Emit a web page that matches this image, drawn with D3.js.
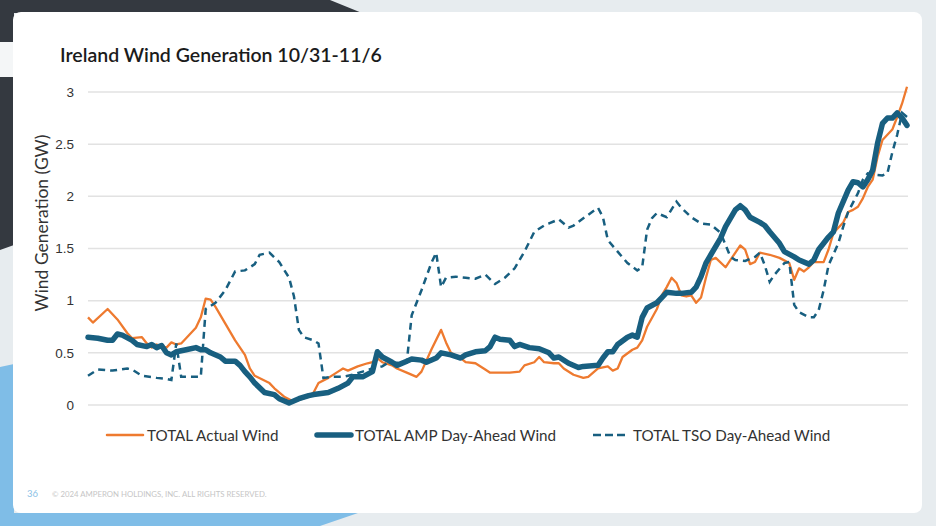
<!DOCTYPE html>
<html>
<head>
<meta charset="UTF-8">
<title>Ireland Wind Generation</title>
<script src="https://cdn.jsdelivr.net/npm/d3@7"></script>
<style>
  html, body { margin: 0; padding: 0; background: #e7ecef; }
  svg { display: block; }
</style>
</head>
<body>
<svg id="slide" width="936" height="526"></svg>
<script>
// ---- data (GW), x = hour index from 10/31 00:00 ----
var titleText = "Ireland Wind Generation 10/31-11/6";
var yTicks = [0, 0.5, 1, 1.5, 2, 2.5, 3];
var seriesNames = ["TOTAL Actual Wind", "TOTAL AMP Day-Ahead Wind", "TOTAL TSO Day-Ahead Wind"];

var actualHours = [0,1,4,6,8,9,11,12,13,14,16,17,18,19,20,22,23,24,25,26,28,30,32,33,34,37,38,40,42,43,45,46,47,49,51,52,53,55,57,58,59,60,62,63,65,67,68,70,72,73,74,76,77,79,81,82,84,86,88,89,91,92,93,95,96,97,99,101,102,104,106,107,108,109,111,112,113,114,116,117,118,119,120,121,122,123,124,125,126,127,128,130,131,133,134,135,136,137,139,141,143,144,145,146,147,148,150,151,152,154,155,156,157,158,159,160,161,162,164,165,166,167];
var actualGW = [0.84,0.79,0.92,0.82,0.69,0.64,0.65,0.59,0.55,0.58,0.55,0.60,0.58,0.59,0.64,0.74,0.84,1.02,1.01,0.94,0.78,0.62,0.48,0.35,0.28,0.21,0.16,0.08,0.03,0.05,0.08,0.12,0.21,0.26,0.32,0.35,0.33,0.37,0.40,0.41,0.45,0.41,0.38,0.35,0.31,0.27,0.32,0.53,0.72,0.60,0.50,0.45,0.41,0.40,0.34,0.31,0.31,0.31,0.32,0.38,0.41,0.46,0.41,0.40,0.40,0.35,0.29,0.26,0.27,0.35,0.37,0.33,0.35,0.46,0.53,0.55,0.62,0.75,0.92,1.05,1.13,1.22,1.17,1.05,1.04,1.05,0.98,1.03,1.22,1.39,1.41,1.32,1.39,1.53,1.49,1.35,1.37,1.46,1.44,1.41,1.36,1.20,1.31,1.28,1.32,1.37,1.37,1.49,1.65,1.75,1.85,1.87,1.90,1.98,2.09,2.16,2.38,2.54,2.64,2.76,2.89,3.05];

var ampHours = [0,2,4,5,6,7,9,10,12,13,14,15,16,17,18,20,22,23,24,25,27,28,30,31,32,33,34,36,38,39,41,43,45,46,49,51,53,54,56,58,59,60,62,63,65,66,68,69,71,72,74,76,77,79,81,82,83,84,86,87,88,90,92,94,95,96,98,100,101,104,105,106,107,108,110,111,112,113,114,116,117,118,120,121,123,124,125,126,127,129,130,132,133,134,135,137,138,139,141,142,144,145,147,148,149,151,152,153,155,156,157,158,159,160,161,162,163,164,165,166,167];
var ampGW = [0.65,0.64,0.62,0.62,0.68,0.67,0.62,0.58,0.56,0.58,0.55,0.57,0.50,0.48,0.51,0.53,0.55,0.53,0.53,0.50,0.46,0.42,0.42,0.38,0.32,0.27,0.21,0.12,0.10,0.06,0.02,0.06,0.09,0.10,0.12,0.16,0.21,0.27,0.27,0.32,0.51,0.46,0.41,0.38,0.42,0.44,0.43,0.41,0.45,0.50,0.48,0.45,0.48,0.51,0.52,0.56,0.65,0.63,0.62,0.56,0.58,0.55,0.54,0.50,0.45,0.46,0.40,0.36,0.37,0.38,0.45,0.51,0.51,0.58,0.65,0.67,0.65,0.84,0.93,0.98,1.03,1.08,1.07,1.07,1.08,1.13,1.23,1.36,1.44,1.60,1.71,1.87,1.91,1.87,1.80,1.75,1.72,1.66,1.55,1.47,1.42,1.39,1.35,1.39,1.49,1.61,1.66,1.84,2.06,2.14,2.13,2.09,2.16,2.25,2.51,2.70,2.75,2.75,2.80,2.75,2.68];

var tsoHours = [0,2,5,8,9,11,14,16,17,18,19,21,23,24,26,28,30,32,34,35,37,39,41,42,43,44,46,47,48,50,52,54,56,58,60,61,65,66,67,68,70,71,72,73,75,77,79,81,83,85,87,89,91,93,94,96,98,99,101,104,105,106,108,110,112,113,114,115,116,118,120,121,123,125,127,129,131,132,134,136,137,138,139,140,142,143,144,145,147,148,149,150,151,153,154,155,157,158,159,160,162,163,164,165,166,167];
var tsoGW = [0.28,0.34,0.33,0.35,0.34,0.28,0.26,0.25,0.24,0.59,0.27,0.27,0.27,0.92,0.98,1.10,1.28,1.29,1.35,1.44,1.46,1.37,1.22,1.04,0.72,0.65,0.62,0.59,0.26,0.27,0.27,0.29,0.32,0.35,0.37,0.40,0.41,0.86,0.98,1.10,1.36,1.46,1.13,1.22,1.23,1.22,1.21,1.25,1.16,1.22,1.31,1.47,1.66,1.72,1.74,1.78,1.70,1.72,1.79,1.89,1.80,1.58,1.47,1.36,1.29,1.32,1.68,1.79,1.84,1.80,1.95,1.89,1.80,1.74,1.73,1.65,1.42,1.39,1.38,1.42,1.46,1.34,1.18,1.25,1.36,1.37,0.96,0.89,0.84,0.84,0.91,1.10,1.34,1.55,1.71,1.85,2.03,2.16,2.22,2.21,2.20,2.22,2.42,2.59,2.80,2.76];

var orange = "#ee7a2f", navy = "#185f80";

var svg = d3.select("#slide");

// ---- slide background ----
svg.append("polygon").attr("fill", "#343940")
    .attr("points", "0,0 330,0 362,13 14,13 14,245 0,250");
svg.append("polygon").attr("fill", "#7fbde7")
    .attr("points", "0,367 14,364 14,513 358,513 320,526 0,526");
svg.append("rect").attr("x", 0).attr("y", 42).attr("width", 20).attr("height", 35).attr("fill", "#f4f6f7");
svg.append("rect").attr("x", 13).attr("y", 12).attr("width", 909).attr("height", 501)
    .attr("rx", 8).attr("fill", "#ffffff");

svg.append("text").attr("x", 60).attr("y", 62)
    .attr("font-family", "Lato, 'Noto Sans', sans-serif").attr("font-weight", 600)
    .attr("font-size", 19.5).attr("fill", "#1b1b1b").text(titleText);

// ---- chart ----
var x = d3.scaleLinear().domain([0, 167]).range([88, 907]);
var y = d3.scaleLinear().domain([0, 3]).range([405, 92]);

var grid = svg.append("g");
grid.selectAll("line").data(yTicks).enter().append("line")
    .attr("x1", 88).attr("x2", 908)
    .attr("y1", function(d){ return y(d); }).attr("y2", function(d){ return y(d); })
    .attr("stroke", "#e2e2e2").attr("stroke-width", 1.5);

var yAxis = d3.axisLeft(y).tickValues(yTicks).tickSize(0).tickPadding(0)
    .tickFormat(function(d){ return d3.format("")(d); });
var ya = svg.append("g").attr("transform", "translate(74,0)").call(yAxis);
ya.select(".domain").remove();
ya.selectAll("text").attr("font-family", "'Liberation Sans', Arial, sans-serif")
    .attr("font-size", 13.5).attr("fill", "#333");

svg.append("text")
    .attr("transform", "translate(48,223) rotate(-90)")
    .attr("text-anchor", "middle")
    .attr("font-family", "Lato, 'Noto Sans', sans-serif").attr("font-size", 17.5)
    .attr("fill", "#333").text("Wind Generation (GW)");

function pts(hours, vals) {
    return hours.map(function(h, i){ return [h, vals[i]]; });
}
var line = d3.line().x(function(d){ return x(d[0]); }).y(function(d){ return y(d[1]); });

svg.append("path").datum(pts(actualHours, actualGW))
    .attr("d", line).attr("fill", "none").attr("stroke", orange)
    .attr("stroke-width", 2.3).attr("stroke-linejoin", "round");
svg.append("path").datum(pts(ampHours, ampGW))
    .attr("d", line).attr("fill", "none").attr("stroke", navy)
    .attr("stroke-width", 5.5).attr("stroke-linejoin", "round").attr("stroke-linecap", "round");
svg.append("path").datum(pts(tsoHours, tsoGW))
    .attr("d", line).attr("fill", "none").attr("stroke", navy)
    .attr("stroke-width", 2.5).attr("stroke-dasharray", "7,5");

// ---- legend ----
var legend = [
    { name: seriesNames[0], x1: 107, x2: 143, tx: 147, color: orange, w: 2.5, dash: null },
    { name: seriesNames[1], x1: 317, x2: 351, tx: 355, color: navy, w: 5.5, dash: null },
    { name: seriesNames[2], x1: 593, x2: 626, tx: 633, color: navy, w: 2.5, dash: "8,4" }
];
var lg = svg.append("g").selectAll("g").data(legend).enter().append("g");
lg.append("line")
    .attr("x1", function(d){ return d.x1; }).attr("x2", function(d){ return d.x2; })
    .attr("y1", 435).attr("y2", 435)
    .attr("stroke", function(d){ return d.color; })
    .attr("stroke-width", function(d){ return d.w; })
    .attr("stroke-linecap", function(d){ return d.dash ? "butt" : "round"; })
    .attr("stroke-dasharray", function(d){ return d.dash; });
lg.append("text")
    .attr("x", function(d){ return d.tx; }).attr("y", 441)
    .attr("font-family", "Lato, 'Noto Sans', sans-serif").attr("font-size", 15.2)
    .attr("fill", "#333").text(function(d){ return d.name; });

// ---- footer ----
svg.append("text").attr("x", 27).attr("y", 497)
    .attr("font-family", "Lato, sans-serif").attr("font-size", 9.5)
    .attr("fill", "#8cc2e6").text("36");
svg.append("text").attr("x", 52).attr("y", 497)
    .attr("font-family", "Lato, sans-serif").attr("font-size", 7.8)
    .attr("fill", "#c6c6c6").text("© 2024 AMPERON HOLDINGS, INC. ALL RIGHTS RESERVED.");
</script>
</body>
</html>
